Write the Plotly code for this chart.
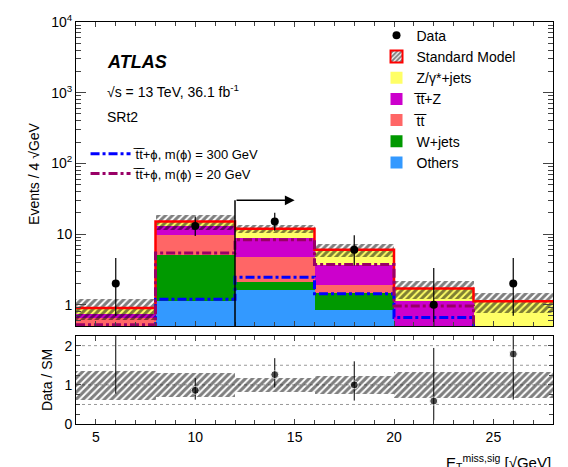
import numpy as np
import plotly.graph_objects as go
from plotly.subplots import make_subplots

# bin centres, E_T^miss,sig [sqrt(GeV)]
bins = [6, 10, 14, 18, 22, 26]
edges = [4, 8, 12, 16, 20, 24, 28]

others = [0.35, 1.13, 1.64, 0.83, 0.30, 0.30]
wjets = [0.05, 3.87, 0.46, 0.65, 0.05, 0.02]
ttbar = [0.25, 4.60, 2.60, 0.45, 0.10, 0.02]
ttz = [0.10, 3.20, 4.10, 1.77, 0.68, 0.03]
zjets = [0.15, 2.30, 3.10, 2.30, 0.57, 0.75]
sm_err = [0.30, 3.80, 1.60, 1.20, 0.50, 0.36]
ratio_err = [0.37, 0.30, 0.17, 0.23, 0.33, 0.33]

data = [2, 13, 15, 6, 1, 2]
data_up = [2.6, 4.7, 5.0, 3.6, 2.3, 2.6]
data_dn = [1.3, 3.6, 3.9, 2.4, 0.83, 1.3]

sig300 = [0.30, 1.20, 2.45, 1.43, 0.66, 0.40]
sig20 = [0.52, 5.40, 8.30, 3.70, 0.96, 0.40]

TT = "t\u0305t\u0305"
names = ["Others", "W+jets", TT, TT + "+Z", "Z/\u03b3*+jets"]
colors = ["#3399ff", "#009900", "#ff6666", "#cc00cc", "#ffff66"]
comps = [others, wjets, ttbar, ttz, zjets]
cum = np.cumsum(np.array(comps), axis=0)
sm = cum[-1]

fig = make_subplots(rows=2, cols=1, shared_xaxes=True)
FAM = "Liberation Sans, Arial"
fnt = dict(family=FAM, size=14, color="black")
hatch = dict(shape="/", fgcolor="black", bgcolor="rgba(0,0,0,0)", size=5, solidity=0.6)

# stacked backgrounds drawn tallest first (overlay)
for i in [4, 3, 2, 1, 0]:
    fig.add_trace(go.Bar(x=bins, y=cum[i], width=4, marker=dict(color=colors[i], line_width=0),
                         name=names[i], legendrank=10 + (4 - i)), row=1, col=1)

# uncertainty band
fig.add_trace(go.Bar(x=bins, y=2 * np.array(sm_err), base=sm - np.array(sm_err), width=4,
                     marker=dict(color="rgba(0,0,0,0)", line_width=0, pattern=hatch),
                     showlegend=False), row=1, col=1)
# legend entry for SM
fig.add_trace(go.Bar(x=[None], y=[None], name="Standard Model", legendrank=2,
                     marker=dict(color="white", line=dict(color="red", width=2),
                                 pattern=dict(shape="/", fgcolor="black", size=4, solidity=0.6))),
              row=1, col=1)

def step(vals):
    xs, ys = [], []
    for k, v in enumerate(vals):
        xs += [edges[k], edges[k + 1]]
        ys += [v, v]
    return xs, ys

xs, ys = step(sm)
fig.add_trace(go.Scatter(x=xs, y=ys, mode="lines", line=dict(color="red", width=2.5),
                         showlegend=False), row=1, col=1)
xs, ys = step(sig300)
fig.add_trace(go.Scatter(x=xs, y=ys, mode="lines", line=dict(color="blue", width=3, dash="dashdot"),
                         name=TT + "+\u03d5, m(\u03d5) = 300 GeV", legend="legend2"), row=1, col=1)
xs, ys = step(sig20)
fig.add_trace(go.Scatter(x=xs, y=ys, mode="lines", line=dict(color="#990066", width=3, dash="dashdot"),
                         name=TT + "+\u03d5, m(\u03d5) = 20 GeV", legend="legend2"), row=1, col=1)

fig.add_trace(go.Scatter(x=bins, y=data, mode="markers", name="Data", legendrank=1,
                         marker=dict(color="black", size=8),
                         error_y=dict(type="data", array=data_up, arrayminus=data_dn,
                                      color="black", thickness=1.2, width=0)), row=1, col=1)

# ratio panel
rat = np.array(data) / sm
fig.add_trace(go.Bar(x=bins, y=2 * np.array(ratio_err), base=1 - np.array(ratio_err), width=4,
                     marker=dict(color="rgba(0,0,0,0)", line_width=0, pattern=hatch),
                     showlegend=False), row=2, col=1)
fig.add_trace(go.Scatter(x=bins, y=rat, mode="markers", showlegend=False,
                         marker=dict(color="black", size=[0 if r > 2.1 else 8 for r in rat]),
                         error_y=dict(type="data", array=np.array(data_up) / sm,
                                      arrayminus=np.array(data_dn) / sm,
                                      color="black", thickness=1, width=0)), row=2, col=1)

for v in [0.5, 1, 1.5, 2]:
    fig.add_shape(type="line", x0=4, x1=28, y0=v, y1=v, xref="x2", yref="y2",
                  line=dict(color="#999999", width=1, dash="dot"), layer="below")

# arrow for selection
fig.add_shape(type="line", x0=12, x1=12, y0=0.5, y1=30, xref="x", yref="y", line=dict(color="black", width=1.5))
fig.add_annotation(x=15, y=np.log10(30), ax=12, ay=np.log10(30), xref="x", yref="y", axref="x", ayref="y",
                   showarrow=True, arrowhead=2, arrowsize=1.3, arrowwidth=1.5, arrowcolor="black", text="")

ax = dict(showline=True, linecolor="black", mirror="ticks", ticks="inside", showgrid=False, zeroline=False,
          tickfont=fnt, automargin=False)
fig.update_xaxes(**ax, range=[4, 28], dtick=5, minor=dict(ticks="inside", dtick=1, ticklen=4))
fig.update_xaxes(showticklabels=False, row=1, col=1)
minor_log = [m * 10 ** d for d in range(-1, 4) for m in range(2, 10) if 0.5 < m * 10 ** d < 1e4]
fig.update_yaxes(**ax, type="log", range=[np.log10(0.5), 4], ticklen=10,
                 tickvals=[1, 10, 100, 1000, 10000],
                 ticktext=["1", "10", "10<sup>2</sup>", "10<sup>3</sup>", "10<sup>4</sup>"],
                 minor=dict(ticks="inside", ticklen=5, tickvals=minor_log, showgrid=False),
                 title=dict(text="Events / 4 \u221aGeV", font=fnt, standoff=8), row=1, col=1)
fig.update_yaxes(**ax, range=[0, 2.25], tickvals=[0, 1, 2], minor=dict(ticks="inside", dtick=0.25, ticklen=4),
                 title=dict(text="Data / SM", font=fnt, standoff=8), row=2, col=1)

fig.update_layout(
    width=568, height=467, margin=dict(l=68, r=23, t=0, b=0, autoexpand=False),
    plot_bgcolor="white", paper_bgcolor="white", barmode="overlay", bargap=0,
    font=fnt, showlegend=True,
    yaxis=dict(domain=[0.319, 0.970]), yaxis2=dict(domain=[0.109, 0.298]),
    legend=dict(x=0.63, y=0.975, xanchor="left", yanchor="top", bgcolor="rgba(0,0,0,0)",
                font=dict(family=FAM, size=14), tracegroupgap=0, itemwidth=30),
    legend2=dict(x=0.02, y=0.72, xanchor="left", yanchor="top", bgcolor="rgba(0,0,0,0)",
                 font=dict(family=FAM, size=13), itemwidth=40),
)
fig.add_annotation(text="<b><i>ATLAS</i></b>", x=(97 - 68) / 477, y=(467 - 42) / 467, xref="paper", yref="paper",
                   showarrow=False, xanchor="left", font=dict(family=FAM, size=18, color="black"))
fig.add_annotation(text="\u221as = 13 TeV, 36.1 fb<sup>-1</sup>", x=(97 - 68) / 477, y=(467 - 72) / 467,
                   xref="paper", yref="paper", showarrow=False, xanchor="left", font=fnt)
fig.add_annotation(text="SRt2", x=(97 - 68) / 477, y=(467 - 99) / 467,
                   xref="paper", yref="paper", showarrow=False, xanchor="left", font=fnt)
fig.add_annotation(text="E<sub>T</sub><sup>miss,sig</sup> [\u221aGeV]", x=1, y=0.0, xref="paper", yref="paper",
                   showarrow=False, xanchor="right", yanchor="bottom", font=dict(family=FAM, size=15))

fig.write_html("out.html")
